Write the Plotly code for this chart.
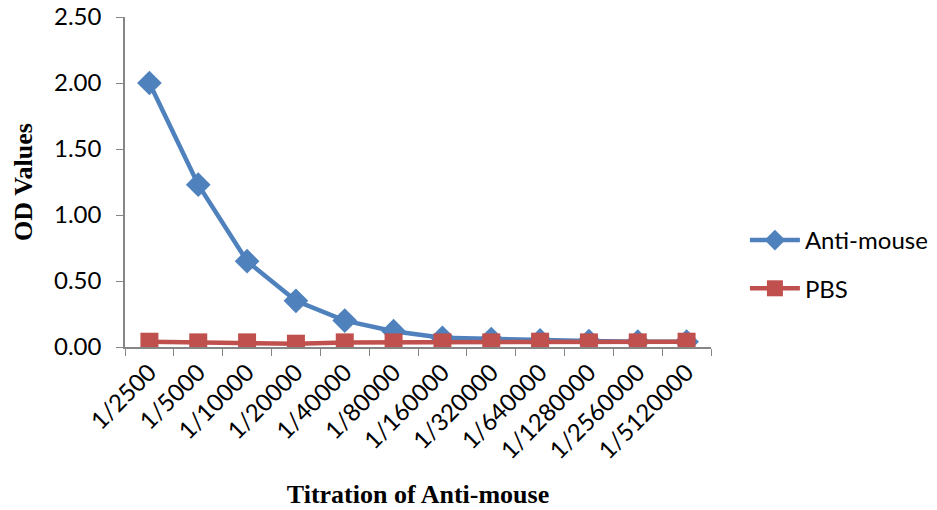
import plotly.graph_objects as go

categories = ["1/2500", "1/5000", "1/10000", "1/20000", "1/40000", "1/80000",
              "1/160000", "1/320000", "1/640000", "1/1280000", "1/2560000", "1/5120000"]
anti_mouse = [2.00, 1.23, 0.65, 0.35, 0.20, 0.12, 0.07, 0.06, 0.05, 0.045, 0.04, 0.04]
pbs = [0.04, 0.035, 0.035, 0.025, 0.035, 0.035, 0.035, 0.035, 0.04, 0.035, 0.035, 0.04]

fig = go.Figure()
fig.add_trace(go.Scatter(x=categories, y=anti_mouse, name="Anti-mouse", mode="lines+markers",
                         line=dict(color="#4F81BD", width=4.5),
                         marker=dict(symbol="diamond", size=19, color="#4F81BD"),
                         legendgroup="a"))
fig.add_trace(go.Scatter(x=categories, y=pbs, name="PBS", mode="lines+markers",
                         line=dict(color="#C0504D", width=4.5),
                         marker=dict(symbol="square", size=18, color="#C0504D"),
                         legendgroup="b"))

axis_font = dict(family="Lato, Open Sans, sans-serif", size=24, color="black")
fig.update_layout(
    width=937, height=510,
    margin=dict(l=125, r=226, t=17, b=163, autoexpand=False),
    plot_bgcolor="white", paper_bgcolor="white",
    xaxis=dict(type="category", showgrid=False, showline=True, linecolor="#868686", linewidth=1.5,
               ticks="outside", tickson="boundaries", ticklen=7, tickcolor="#868686",
               tickangle=-45, tickfont=axis_font, automargin=False,
               title=dict(text="<b>Titration of Anti-mouse</b>",
                          font=dict(family="Liberation Serif, serif", size=26, color="black"),
                          standoff=22),
               range=[-0.5, 11.5]),
    yaxis=dict(range=[0, 2.5], dtick=0.5, tickformat=".2f", showgrid=False, zeroline=False,
               showline=True, linecolor="#868686", linewidth=1.5, ticks="outside", ticklen=7,
               tickcolor="#868686", tickfont=axis_font, automargin=False,
               ticklabelstandoff=10,
               title=dict(text="<b>OD Values</b>",
                          font=dict(family="Liberation Serif, serif", size=26, color="black"),
                          standoff=14)),
    legend=dict(xref="container", x=0.795, y=0.25, xanchor="left", yanchor="middle",
                tracegroupgap=14, itemwidth=50,
                font=dict(family="Lato, Open Sans, sans-serif", size=24, color="black"),
                bgcolor="rgba(0,0,0,0)"),
    showlegend=True,
)

fig.write_html("out.html")
